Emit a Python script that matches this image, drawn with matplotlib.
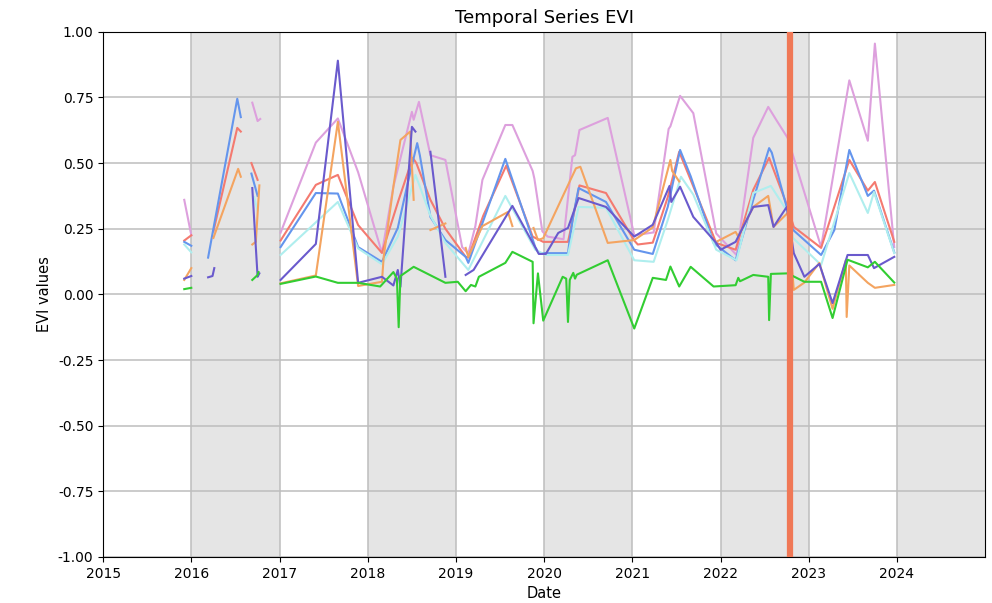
import numpy as np
import matplotlib
matplotlib.use("Agg")
import matplotlib.pyplot as plt
import matplotlib.dates as mdates
from datetime import datetime, timedelta

nan = np.nan

# decimal-year dates and EVI values per series (nan = gap)
plum_t = [2015.92, 2016.00, nan, 2016.69, 2016.75, 2016.78, nan,
          2017.01, 2017.41, 2017.66, 2017.89, 2018.16, 2018.29, 2018.50, 2018.52, 2018.58, 2018.71, 2018.88,
          2019.07, 2019.14, 2019.22, 2019.30, 2019.56, 2019.64, 2019.87, 2019.89, 2019.98, 2020.04, 2020.22,
          2020.32, 2020.35, 2020.40, 2020.72, 2021.02, 2021.24, 2021.41, 2021.43, 2021.54, 2021.69, 2021.95,
          2022.18, 2022.37, 2022.54, 2022.63, 2022.76, 2023.14, 2023.46, 2023.67, 2023.75, 2023.97]
plum_v = [0.36, 0.225, nan, 0.73, 0.66, 0.668, nan,
          0.235, 0.578, 0.67, 0.465, 0.158, 0.41, 0.695, 0.665, 0.733, 0.53, 0.512,
          0.18, 0.155, 0.26, 0.436, 0.645, 0.645, 0.47, 0.44, 0.24, 0.22, 0.21,
          0.524, 0.53, 0.626, 0.672, 0.225, 0.236, 0.63, 0.64, 0.756, 0.69, 0.232,
          0.15, 0.596, 0.714, 0.665, 0.596, 0.18, 0.815, 0.585, 0.955, 0.18]

coral_t = [2015.92, 2016.00, nan, 2016.25, 2016.52, 2016.56, nan, 2016.68, 2016.75, nan,
           2017.01, 2017.41, 2017.66, 2017.89, 2018.16, 2018.35, 2018.51, 2018.55, 2018.71, 2018.88,
           2019.11, 2019.14, 2019.31, 2019.57, 2019.87, 2019.99, 2020.27, 2020.29, 2020.40, 2020.70,
           2021.02, 2021.06, 2021.23, 2021.40, 2021.53, 2021.66, 2021.95, 2022.17, 2022.37, 2022.55,
           2022.76, 2022.83, 2023.14, 2023.46, 2023.67, 2023.75, 2023.97]
coral_v = [0.205, 0.225, nan, 0.24, 0.634, 0.62, nan, 0.5, 0.436, nan,
           0.205, 0.417, 0.455, 0.264, 0.158, 0.36, 0.52, 0.5, 0.36, 0.25,
           0.143, 0.14, 0.3, 0.49, 0.22, 0.2, 0.2, 0.23, 0.415, 0.386,
           0.205, 0.19, 0.197, 0.37, 0.543, 0.436, 0.196, 0.17, 0.398, 0.52,
           0.333, 0.257, 0.177, 0.512, 0.395, 0.428, 0.2]

blue_t = [2015.92, 2016.00, nan, 2016.19, 2016.52, 2016.56, nan, 2016.68, 2016.75, nan,
          2017.01, 2017.41, 2017.66, 2017.89, 2018.16, 2018.34, 2018.45, 2018.56, 2018.59, 2018.71, 2018.88,
          2019.11, 2019.14, 2019.56, 2019.90, 2019.94, 2020.27, 2020.29, 2020.33, 2020.39, 2020.70,
          2021.02, 2021.23, 2021.40, 2021.54, 2021.66, 2021.92, 2022.17, 2022.37, 2022.55, 2022.58,
          2022.76, 2022.82, 2023.14, 2023.29, 2023.46, 2023.67, 2023.74, 2023.97]
blue_v = [0.2, 0.185, nan, 0.14, 0.745, 0.675, nan, 0.46, 0.375, nan,
          0.18, 0.386, 0.384, 0.18, 0.124, 0.253, 0.42, 0.576, 0.53, 0.295, 0.207,
          0.143, 0.12, 0.516, 0.18, 0.157, 0.157, 0.21, 0.3, 0.405, 0.352,
          0.17, 0.154, 0.333, 0.55, 0.45, 0.196, 0.13, 0.36, 0.557, 0.54,
          0.32, 0.246, 0.15, 0.245, 0.55, 0.375, 0.395, 0.16]

turq_t = [2015.92, 2016.00, nan, 2016.71, 2016.75, nan,
          2017.01, 2017.66, 2017.89, 2018.16, 2018.34, 2018.54, 2018.58, 2018.71, 2018.88,
          2019.14, 2019.56, 2019.90, 2020.02, 2020.27, 2020.39, 2020.70,
          2021.02, 2021.24, 2021.40, 2021.55, 2021.69, 2021.95, 2022.18, 2022.37, 2022.57,
          2022.76, 2022.82, 2023.14, 2023.46, 2023.67, 2023.74, 2023.97]
turq_v = [0.19, 0.16, nan, 0.37, 0.32, nan,
          0.15, 0.352, 0.175, 0.115, 0.22, 0.455, 0.42, 0.3, 0.196,
          0.093, 0.375, 0.17, 0.15, 0.15, 0.333, 0.33,
          0.13, 0.124, 0.283, 0.448, 0.38, 0.17, 0.13, 0.386, 0.413,
          0.314, 0.215, 0.112, 0.462, 0.31, 0.39, 0.157]

sand_t = [2015.92, 2016.00, nan, 2016.25, 2016.53, 2016.56, nan, 2016.69, 2016.73, 2016.77, nan,
          2017.01, 2017.41, 2017.66, 2017.89, 2018.16, 2018.18, 2018.29, 2018.37, 2018.48, 2018.52, nan,
          2018.71, 2018.88, nan,
          2019.11, 2019.14, 2019.30, 2019.59, 2019.64, nan,
          2019.88, 2019.93, 2019.99, 2020.22, 2020.36, 2020.41, 2020.72, 2021.02, 2021.23, 2021.43,
          2021.45, 2021.53, nan,
          2021.95, 2022.17, 2022.20, 2022.37, 2022.54, 2022.60, 2022.76, 2022.83, 2022.95, 2023.12,
          2023.27, 2023.42, 2023.43, 2023.46, 2023.67, 2023.75, 2023.97]
sand_v = [0.055, 0.1, nan, 0.215, 0.478, 0.448, nan, 0.19, 0.2, 0.415, nan,
          0.042, 0.072, 0.657, 0.032, 0.048, 0.143, 0.41, 0.588, 0.62, 0.36, nan,
          0.245, 0.27, nan,
          0.177, 0.143, 0.26, 0.314, 0.26, nan,
          0.253, 0.207, 0.214, 0.38, 0.48, 0.486, 0.196, 0.207, 0.255, 0.512,
          0.47, 0.43, nan,
          0.2, 0.238, 0.22, 0.333, 0.375, 0.257, 0.31, 0.017, 0.045, 0.12,
          -0.055, 0.13, -0.086, 0.11, 0.044, 0.025, 0.036]

slate_t = [2015.92, 2016.00, nan, 2016.19, 2016.24, 2016.26, nan, 2016.69, 2016.75, 2016.77, nan,
           2017.01, 2017.41, 2017.66, 2017.89, 2018.16, 2018.29, 2018.34, 2018.37, 2018.50, 2018.54, nan,
           2018.71, 2018.88, nan,
           2019.11, 2019.20, 2019.64, 2019.94, 2020.02, 2020.16, 2020.27, 2020.39, 2020.70,
           2021.02, 2021.23, 2021.42, 2021.44, 2021.54, 2021.69, 2021.95, 2022.00, 2022.17, 2022.20,
           2022.37, 2022.54, 2022.60, 2022.75, 2022.83, 2022.95, 2023.12, 2023.27, 2023.44, 2023.67,
           2023.74, 2023.97]
slate_v = [0.06, 0.07, nan, 0.065, 0.07, 0.1, nan, 0.405, 0.067, 0.08, nan,
           0.055, 0.192, 0.89, 0.044, 0.067, 0.034, 0.093, 0.029, 0.638, 0.62, nan,
           0.543, 0.067, nan,
           0.074, 0.093, 0.337, 0.154, 0.154, 0.234, 0.253, 0.367, 0.333,
           0.22, 0.265, 0.413, 0.352, 0.41, 0.295, 0.196, 0.17, 0.2, 0.22,
           0.333, 0.34, 0.257, 0.333, 0.157, 0.067, 0.116, -0.033, 0.15, 0.15,
           0.1, 0.143]

green_t = [2015.92, 2016.00, nan, 2016.69, 2016.75, 2016.76, nan,
           2017.01, 2017.41, 2017.66, 2017.89, 2018.14, 2018.29, 2018.33, 2018.35, 2018.37, 2018.52, 2018.88,
           2019.02, 2019.11, 2019.17, 2019.22, 2019.26, 2019.56, 2019.64, 2019.87, 2019.88, 2019.93, 2019.99,
           2020.21, 2020.25, 2020.27, 2020.29, 2020.33, 2020.35, 2020.37, 2020.72, 2021.02, 2021.23, 2021.38,
           2021.43, 2021.53, 2021.66, 2021.92, 2022.17, 2022.20, 2022.22, 2022.37, 2022.54, 2022.55, 2022.57,
           2022.76, 2022.95, 2023.14, 2023.27, 2023.44, 2023.67, 2023.75, 2023.97]
green_v = [0.02, 0.025, nan, 0.055, 0.074, 0.085, nan,
           0.04, 0.068, 0.044, 0.044, 0.03, 0.085, 0.06, -0.125, 0.07, 0.105, 0.044,
           0.048, 0.012, 0.036, 0.03, 0.067, 0.12, 0.162, 0.124, -0.11, 0.08, -0.1,
           0.067, 0.06, -0.105, 0.055, 0.082, 0.06, 0.075, 0.13, -0.13, 0.063, 0.055,
           0.106, 0.03, 0.105, 0.03, 0.035, 0.063, 0.05, 0.074, 0.067, -0.098, 0.078,
           0.08, 0.048, 0.048, -0.09, 0.132, 0.103, 0.124, 0.045]

event_date = "2022-10-15"
shaded_years = [2016, 2018, 2020, 2022, 2024]
year_ticks = list(range(2015, 2025))


def to_dates(ts):
    out = []
    for t in ts:
        if np.isnan(t):
            out.append(None)
            continue
        y = int(t)
        start = datetime(y, 1, 1)
        days = (datetime(y + 1, 1, 1) - start).days
        out.append(start + timedelta(days=(t - y) * days))
    return out


def series(ts, vs):
    d = to_dates(ts)
    dd, vv = [], []
    for i, (a, v) in enumerate(zip(d, vs)):
        if a is None:
            prev = d[i - 1]
            nxt = d[i + 1]
            dd.append(prev + (nxt - prev) / 2)
            vv.append(np.nan)
        else:
            dd.append(a)
            vv.append(v)
    return dd, vv


fig = plt.figure(figsize=(9.92, 6.03), dpi=100)
ax = fig.add_axes([0.104, 0.0763, 0.889, 0.871])

for y in shaded_years:
    ax.axvspan(datetime(y, 1, 1), datetime(y + 1, 1, 1), color="gray", alpha=0.2, lw=0, zorder=0.5)

ax.grid(True, color="#bdbdbd", lw=1.1, zorder=1)
ax.set_axisbelow(True)

specs = [
    (plum_t, plum_v, "plum"),
    (coral_t, coral_v, "#f47a70"),
    (blue_t, blue_v, "cornflowerblue"),
    (turq_t, turq_v, "paleturquoise"),
    (sand_t, sand_v, "sandybrown"),
    (slate_t, slate_v, "slateblue"),
    (green_t, green_v, "limegreen"),
]
for ts, vs, c in specs:
    d, v = series(ts, vs)
    ax.plot(d, v, color=c, lw=1.5, zorder=2)

ax.axvline(datetime.strptime(event_date, "%Y-%m-%d"), color="#f07856", lw=4.5, zorder=3)

ax.set_xlim(datetime(2015, 1, 1), datetime(2024, 12, 31))
ax.set_ylim(-1, 1)
ax.set_xticks([datetime(y, 1, 1) for y in year_ticks])
ax.xaxis.set_major_formatter(mdates.DateFormatter("%Y"))
ax.set_yticks(np.arange(-1, 1.01, 0.25))
ax.yaxis.set_major_formatter(matplotlib.ticker.FormatStrFormatter("%.2f"))
ax.tick_params(labelsize=10)

ax.set_title("Temporal Series EVI", fontsize=13)
ax.set_xlabel("Date", fontsize=10.5)
ax.set_ylabel("EVI values", fontsize=10.5)

fig.savefig("out.png", dpi=100)
